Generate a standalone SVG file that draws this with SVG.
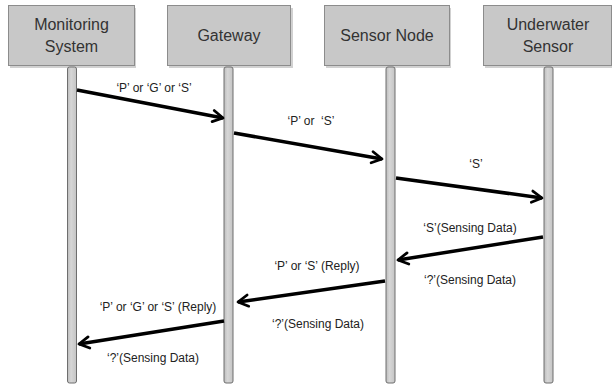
<svg xmlns="http://www.w3.org/2000/svg" width="612" height="388" viewBox="0 0 612 388">
<defs>
<marker id="ah" viewBox="0 0 12 12" refX="10" refY="6" markerWidth="4.3" markerHeight="4.3" orient="auto" markerUnits="strokeWidth">
<polyline points="2,1.5 10,6 2,10.5" fill="none" stroke="#000" stroke-width="2.2" stroke-linecap="round" stroke-linejoin="round"/>
</marker>
<linearGradient id="lg" x1="0" x2="1" y1="0" y2="0">
<stop offset="0" stop-color="#bdbdbd"/>
<stop offset="0.4" stop-color="#d6d6d6"/>
<stop offset="1" stop-color="#c4c4c4"/>
</linearGradient>
</defs>
<style>
.box{fill:#c8c8c8;stroke:#8c8c8c;stroke-width:1}
.shd{fill:#9a9a9a;opacity:0.45}
.life{fill:url(#lg);stroke:#6e6e6e;stroke-width:1}
.t{font-family:"Liberation Sans",Arial,sans-serif;font-size:16px;fill:#333;text-anchor:middle}
.l{font-family:"Liberation Sans",Arial,sans-serif;font-size:12px;fill:#222;text-anchor:middle}
.msg{stroke:#000;stroke-width:3.5;fill:none;marker-end:url(#ah)}
</style>
<rect width="612" height="388" fill="#fff"/>
<g id="monitoring">
<rect class="shd" x="10" y="8" width="126" height="60"/>
<rect class="box" x="8.5" y="5.5" width="126" height="60"/>
<text class="t" x="71.5" y="30">Monitoring</text>
<text class="t" x="71.5" y="52">System</text>
<rect class="life" x="67.5" y="67" width="9" height="316" rx="2"/>
</g>
<g id="gateway">
<rect class="shd" x="169" y="8" width="124" height="60"/>
<rect class="box" x="167.5" y="5.5" width="123" height="60"/>
<text class="t" x="229" y="41">Gateway</text>
<rect class="life" x="224" y="67" width="9" height="316" rx="2"/>
</g>
<g id="sensornode">
<rect class="shd" x="326" y="8" width="125" height="60"/>
<rect class="box" x="324.5" y="5.5" width="125" height="60"/>
<text class="t" x="387" y="41">Sensor Node</text>
<rect class="life" x="386" y="67" width="9" height="316" rx="2"/>
</g>
<g id="underwater">
<rect class="shd" x="485" y="8" width="128" height="60"/>
<rect class="box" x="483.5" y="5.5" width="128" height="60"/>
<text class="t" x="548" y="30">Underwater</text>
<text class="t" x="548" y="52">Sensor</text>
<rect class="life" x="544" y="67" width="9" height="316" rx="2"/>
</g>
<g id="connectors">
<line class="msg" x1="77" y1="90" x2="223" y2="118"/>
<line class="msg" x1="234" y1="133" x2="382" y2="159"/>
<line class="msg" x1="396" y1="178" x2="542" y2="198"/>
<line class="msg" x1="543" y1="237" x2="398" y2="260"/>
<line class="msg" x1="385" y1="281" x2="238" y2="302"/>
<line class="msg" x1="224" y1="321" x2="79" y2="344"/>
</g>
<g id="labels">
<text class="l" x="154" y="92">‘P’ or ‘G’ or ‘S’</text>
<text class="l" x="311" y="125">‘P’ or &#160;‘S’</text>
<text class="l" x="476" y="168">‘S’</text>
<text class="l" x="470" y="232">‘S’(Sensing Data)</text>
<text class="l" x="317" y="270">‘P’ or ‘S’ (Reply)</text>
<text class="l" x="470" y="284">‘?’(Sensing Data)</text>
<text class="l" x="158" y="311">‘P’ or ‘G’ or ‘S’ (Reply)</text>
<text class="l" x="318" y="328">‘?’(Sensing Data)</text>
<text class="l" x="153" y="362">‘?’(Sensing Data)</text>
</g>
</svg>
